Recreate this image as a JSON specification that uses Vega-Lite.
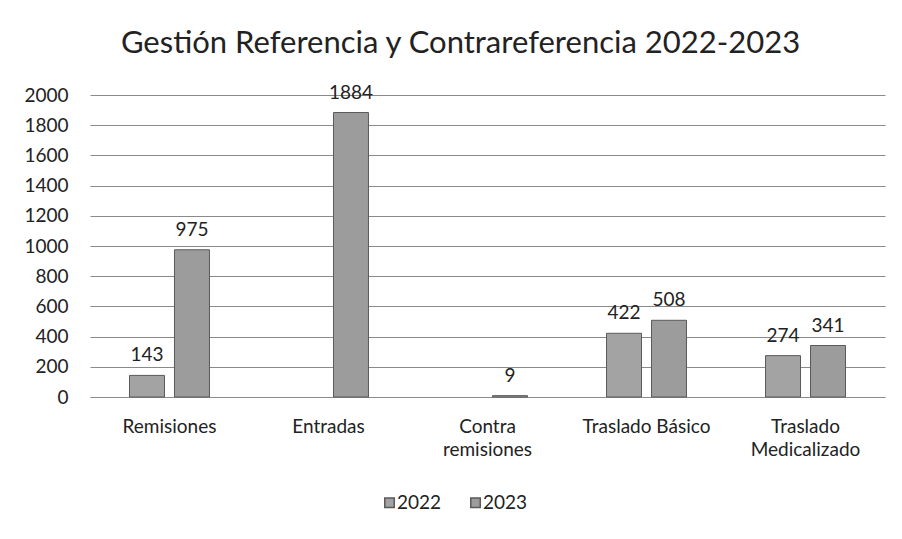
{
  "$schema": "https://vega.github.io/schema/vega-lite/v6.json",
  "width": 795,
  "height": 302,
  "autosize": {"type": "none"},
  "padding": {"left": 90, "top": 95, "right": 17, "bottom": 142},
  "background": "white",
  "title": {
    "text": "Gestión Referencia y Contrareferencia 2022-2023",
    "font": "Lato",
    "fontSize": 31,
    "fontWeight": "normal",
    "color": "#222222",
    "anchor": "middle",
    "dx": -27,
    "offset": 24
  },
  "data": {
    "values": [
      {"categoria": "Remisiones", "año": "2022", "valor": 143},
      {"categoria": "Remisiones", "año": "2023", "valor": 975},
      {"categoria": "Entradas", "año": "2023", "valor": 1884},
      {"categoria": "Contra remisiones", "año": "2023", "valor": 9},
      {"categoria": "Traslado Básico", "año": "2022", "valor": 422},
      {"categoria": "Traslado Básico", "año": "2023", "valor": 508},
      {"categoria": "Traslado Medicalizado", "año": "2022", "valor": 274},
      {"categoria": "Traslado Medicalizado", "año": "2023", "valor": 341}
    ]
  },
  "encoding": {
    "x": {
      "field": "categoria",
      "type": "nominal",
      "sort": ["Remisiones", "Entradas", "Contra remisiones", "Traslado Básico", "Traslado Medicalizado"],
      "scale": {"paddingInner": 0.497, "paddingOuter": 0.2484},
      "axis": {
        "title": null,
        "labelAngle": 0,
        "domain": false,
        "ticks": false,
        "labelPadding": 20,
        "labelFont": "Lato",
        "labelFontSize": 19,
        "labelColor": "#222222",
        "labelLineHeight": 23,
        "labelExpr": "datum.value == 'Contra remisiones' ? ['Contra', 'remisiones'] : datum.value == 'Traslado Medicalizado' ? ['Traslado', 'Medicalizado'] : datum.value"
      }
    },
    "xOffset": {
      "field": "año",
      "type": "nominal",
      "scale": {"paddingInner": 0.222, "paddingOuter": 0}
    },
    "y": {
      "field": "valor",
      "type": "quantitative",
      "scale": {"domain": [0, 2000], "nice": false},
      "axis": {
        "title": null,
        "values": [0, 200, 400, 600, 800, 1000, 1200, 1400, 1600, 1800, 2000],
        "format": "d",
        "domain": false,
        "ticks": false,
        "labelPadding": 22,
        "labelFont": "Lato",
        "labelFontSize": 19,
        "labelColor": "#222222",
        "gridColor": "#8a8a8a",
        "gridWidth": 1
      }
    }
  },
  "layer": [
    {
      "mark": {"type": "bar", "stroke": "#5a5a5a", "strokeWidth": 1},
      "encoding": {
        "color": {
          "field": "año",
          "type": "nominal",
          "scale": {"domain": ["2022", "2023"], "range": ["#a3a3a3", "#9c9c9c"]},
          "legend": {
            "title": null,
            "orient": "none",
            "legendX": 290,
            "legendY": 398,
            "direction": "horizontal",
            "symbolType": "square",
            "symbolSize": 90,
            "symbolStrokeColor": "#5a5a5a",
            "labelFont": "Lato",
            "labelFontSize": 19,
            "labelColor": "#222222",
            "columnPadding": 24,
            "labelOffset": -2
          }
        }
      }
    },
    {
      "mark": {"type": "text", "font": "Lato", "fontSize": 19, "color": "#222222", "baseline": "alphabetic", "dy": -14},
      "encoding": {
        "text": {"field": "valor", "type": "quantitative"}
      }
    }
  ],
  "config": {
    "view": {"stroke": null}
  }
}
